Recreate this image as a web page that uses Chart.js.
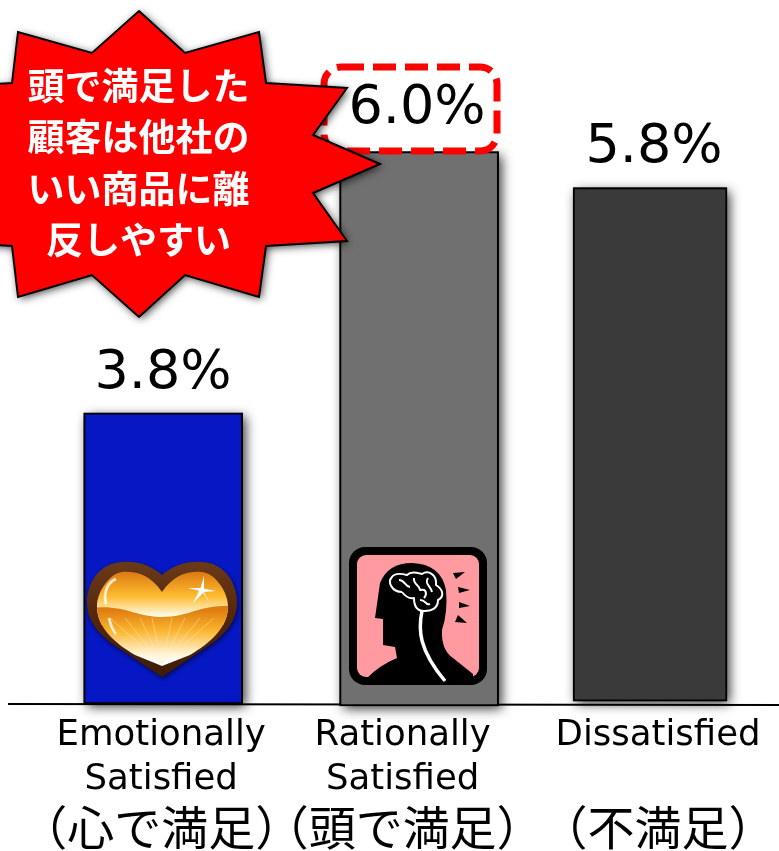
<!DOCTYPE html>
<html>
<head>
<meta charset="utf-8">
<title>Satisfaction chart</title>
<script src="https://cdn.jsdelivr.net/npm/chart.js@4"></script>
<style>
    html, body { margin: 0; padding: 0; background: #fff; }
    canvas { display: block; }
</style>
</head>
<body>
<canvas id="chart" width="779" height="851"></canvas>
<script>
const labelsEn = [['Emotionally', 'Satisfied'], ['Rationally', 'Satisfied'], ['Dissatisfied']];
const labelsJa = ['（心で満足）', '（頭で満足）', '（不満足）'];
const printedValues = [3.8, 6.0, 5.8];
// the bars in the picture are not to scale with the printed numbers, so heights are read separately
const barTops = [3.8, 7.21, 6.74];
const barBases = [0, -0.026, 0.039];
const barColors = ['#0618c4', '#707070', '#3a3a3a'];
const barWidths = [159, 159, 154];
const barNudge = [0, 12.5, 0];
const tickNudge = [-2, -4, 8];
const calloutLines = ['頭で満足した', '顧客は他社の', 'いい商品に離', '反しやすい'];

const JP = '"Noto Sans CJK JP"';
const LATIN = '"DejaVu Sans"';

const poly = (ctx, pts) => {
    ctx.beginPath();
    pts.forEach((p, i) => i ? ctx.lineTo(p[0], p[1]) : ctx.moveTo(p[0], p[1]));
    ctx.closePath();
};

const drawCallout = (ctx) => {
    const pts = [[139, 11], [185, 53], [259, 32], [266, 83], [347, 88], [313, 135], [380, 164], [313, 193], [347, 241],
        [266, 246], [259, 297], [185, 275], [139, 317], [92, 275], [18, 297], [12, 246], [-69, 241], [-35, 193],
        [-102, 164], [-35, 135], [-69, 88], [12, 83], [18, 32], [92, 53]];
    ctx.save();
    ctx.shadowColor = 'rgba(0,0,0,0.75)';
    ctx.shadowBlur = 9;
    ctx.shadowOffsetX = 2;
    ctx.shadowOffsetY = 2;
    poly(ctx, pts);
    ctx.fillStyle = '#ff0000';
    ctx.fill();
    ctx.shadowColor = 'transparent';
    ctx.lineWidth = 2;
    ctx.strokeStyle = '#000';
    ctx.stroke();

    ctx.font = 'bold 37px ' + JP;
    ctx.fillStyle = '#fff';
    ctx.textAlign = 'center';
    ctx.textBaseline = 'middle';
    [86, 137, 189, 240].forEach((y, i) => ctx.fillText(calloutLines[i], 138.5, y));
    ctx.restore();
};

const heartPath = (ctx, cx, notch, top, left, right, mid, tip) => {
    const l = cx - left, r = cx + right;
    ctx.beginPath();
    ctx.moveTo(cx, notch);
    ctx.bezierCurveTo(cx - 12, top + 3, cx - 25, top - 1, cx - 40, top);
    ctx.bezierCurveTo(l + 13, top + 1, l, top + 20, l, mid);
    ctx.bezierCurveTo(l, mid + 22, l + 18, mid + 37, l + 38, mid + 49);
    ctx.lineTo(cx, tip);
    ctx.lineTo(r - 38, mid + 49);
    ctx.bezierCurveTo(r - 18, mid + 37, r, mid + 22, r, mid);
    ctx.bezierCurveTo(r, top + 20, r - 13, top + 1, cx + 40, top);
    ctx.bezierCurveTo(cx + 25, top - 1, cx + 12, top + 3, cx, notch);
    ctx.closePath();
};

const drawHeart = (ctx) => {
    ctx.save();
    ctx.shadowColor = 'rgba(0,0,0,0.6)';
    ctx.shadowBlur = 5;
    ctx.shadowOffsetX = 1;
    ctx.shadowOffsetY = 2;
    heartPath(ctx, 162, 575, 562, 75, 75, 603, 677);
    const rim = ctx.createLinearGradient(0, 562, 0, 677);
    rim.addColorStop(0, '#6a3a18');
    rim.addColorStop(0.5, '#54260a');
    rim.addColorStop(1, '#3e1c06');
    ctx.fillStyle = rim;
    ctx.fill();
    ctx.restore();

    ctx.save();
    heartPath(ctx, 162, 592, 572, 65, 66, 606, 666);
    ctx.save();
    ctx.clip();
    const upper = ctx.createLinearGradient(0, 572, 0, 616);
    upper.addColorStop(0, '#dc7a10');
    upper.addColorStop(0.55, '#fdbb30');
    upper.addColorStop(1, '#fffbe8');
    ctx.fillStyle = upper;
    ctx.fillRect(90, 565, 145, 60);
    ctx.beginPath();
    ctx.moveTo(90, 608);
    ctx.bezierCurveTo(125, 604, 135, 617, 162, 617);
    ctx.bezierCurveTo(190, 617, 200, 604, 235, 606);
    ctx.lineTo(235, 680);
    ctx.lineTo(90, 680);
    ctx.closePath();
    const lower = ctx.createLinearGradient(0, 610, 0, 662);
    lower.addColorStop(0, '#df7d10');
    lower.addColorStop(0.4, '#fbb52e');
    lower.addColorStop(0.85, '#fff4d8');
    lower.addColorStop(1, '#ffffff');
    ctx.fillStyle = lower;
    ctx.fill();
    // light rays fanning up from the tip
    ctx.strokeStyle = 'rgba(255,240,200,0.45)';
    ctx.lineWidth = 1;
    ctx.beginPath();
    [110, 125, 140, 152, 172, 185, 200, 214].forEach(x => {
        ctx.moveTo(162, 664);
        ctx.lineTo(x, 618);
    });
    ctx.stroke();
    // glossy highlight on the left lobe
    ctx.strokeStyle = 'rgba(255,255,255,0.6)';
    ctx.lineWidth = 3;
    ctx.beginPath();
    ctx.moveTo(106, 604);
    ctx.bezierCurveTo(103, 592, 108, 582, 116, 579);
    ctx.moveTo(116, 646 - 12);
    ctx.bezierCurveTo(111, 628, 110, 622, 109, 618);
    ctx.stroke();
    ctx.restore();
    ctx.strokeStyle = '#fff';
    ctx.lineWidth = 1;
    ctx.stroke();

    // sparkle
    ctx.fillStyle = '#fff';
    [[204, 576], [216, 591], [188, 588], [193, 603], [210, 604]].forEach(s => {
        poly(ctx, [[s[0], s[1]], [200.5, 588], [204, 592]]);
        ctx.fill();
    });
    ctx.restore();
};

const drawHead = (ctx) => {
    ctx.save();
    ctx.fillStyle = '#000';
    ctx.beginPath();
    ctx.roundRect(349, 547, 138, 138, 16);
    ctx.fill();
    ctx.fillStyle = '#ff9aa0';
    ctx.beginPath();
    ctx.roundRect(357, 555, 122, 122, 9);
    ctx.fill();

    // silhouette
    ctx.fillStyle = '#000';
    ctx.beginPath();
    ctx.moveTo(367, 678);
    ctx.quadraticCurveTo(380, 665, 397, 658);
    ctx.lineTo(395, 647);
    ctx.lineTo(383, 645);
    ctx.lineTo(383, 619);
    ctx.lineTo(375, 618);
    ctx.lineTo(380, 583);
    ctx.quadraticCurveTo(388, 563, 412, 563);
    ctx.quadraticCurveTo(441, 564, 446, 590);
    ctx.quadraticCurveTo(448, 612, 442, 630);
    ctx.quadraticCurveTo(441, 650, 453, 658);
    ctx.lineTo(473, 674);
    ctx.lineTo(473, 678);
    ctx.closePath();
    ctx.fill();
    poly(ctx, [[453, 573], [465, 572], [456, 579]]);
    ctx.fill();
    poly(ctx, [[458, 587], [470, 590], [459, 593]]);
    ctx.fill();
    poly(ctx, [[459, 602], [470, 606], [459, 608]]);
    ctx.fill();
    poly(ctx, [[455, 622], [467, 623], [458, 615]]);
    ctx.fill();

    // brain outline and spine
    ctx.strokeStyle = '#fff';
    ctx.lineWidth = 2;
    ctx.lineJoin = 'round';
    ctx.beginPath();
    ctx.moveTo(402, 592);
    ctx.bezierCurveTo(392, 592, 387, 582, 392, 577);
    ctx.bezierCurveTo(395, 572, 403, 574, 407, 575);
    ctx.bezierCurveTo(412, 570, 420, 574, 422, 574);
    ctx.bezierCurveTo(428, 570, 437, 574, 436, 585);
    ctx.bezierCurveTo(444, 590, 444, 597, 438, 600);
    ctx.bezierCurveTo(438, 608, 432, 611, 424, 611);
    ctx.bezierCurveTo(416, 611, 414, 604, 414, 598);
    ctx.bezierCurveTo(408, 599, 405, 596, 402, 592);
    ctx.moveTo(399, 580);
    ctx.bezierCurveTo(405, 580, 405, 587, 410, 587);
    ctx.moveTo(414, 578);
    ctx.bezierCurveTo(413, 585, 420, 585, 420, 590);
    ctx.bezierCurveTo(427, 588, 427, 595, 424, 598);
    ctx.moveTo(428, 578);
    ctx.bezierCurveTo(424, 584, 431, 586, 432, 592);
    ctx.moveTo(420, 600);
    ctx.bezierCurveTo(426, 600, 426, 606, 430, 604);
    ctx.stroke();
    ctx.lineWidth = 3.5;
    ctx.beginPath();
    ctx.moveTo(422, 611);
    ctx.bezierCurveTo(418, 630, 419, 650, 445, 681);
    ctx.stroke();
    ctx.restore();
};

const barDecor = {
    id: 'barDecor',
    afterDatasetsUpdate(chart) {
        chart.data.datasets.forEach((ds, d) => {
            chart.getDatasetMeta(d).data[d].x += barNudge[d];
        });
    },
    beforeDatasetsDraw(chart) {
        const { ctx, scales: { y } } = chart;
        // soft shadow under each bar, then the axis rule on top of it
        ctx.save();
        ctx.shadowColor = 'rgba(0,0,0,0.8)';
        ctx.shadowBlur = 11;
        ctx.shadowOffsetX = 3;
        ctx.shadowOffsetY = 3;
        ctx.fillStyle = '#000';
        chart.data.datasets.forEach((ds, d) => {
            const bar = chart.getDatasetMeta(d).data[d];
            ctx.fillRect(bar.x - bar.width / 2, bar.y, bar.width, bar.base - bar.y);
        });
        ctx.restore();

        const y0 = y.getPixelForValue(0);
        ctx.save();
        ctx.strokeStyle = '#000';
        ctx.lineWidth = 2;
        ctx.beginPath();
        ctx.moveTo(8, y0);
        ctx.lineTo(779, y0 + 1);
        ctx.stroke();
        ctx.restore();
    },
    afterDatasetsDraw(chart) {
        const { ctx } = chart;
        drawHeart(ctx);
        drawHead(ctx);

        // dashed frame round the 6.0%
        ctx.save();
        ctx.beginPath();
        ctx.roundRect(324, 67, 173, 84, 17);
        ctx.fillStyle = '#fff';
        ctx.fill();
        ctx.strokeStyle = '#ff0000';
        ctx.lineWidth = 7;
        ctx.setLineDash([23, 9]);
        ctx.stroke();
        ctx.restore();

        ctx.save();
        ctx.font = '54px ' + LATIN;
        ctx.fillStyle = '#000';
        ctx.textAlign = 'center';
        ctx.textBaseline = 'alphabetic';
        const labelX = [163, 417, 654];
        const labelY = [388, 123, 162];
        printedValues.forEach((v, i) => ctx.fillText(v.toFixed(1) + '%', labelX[i], labelY[i]));
        ctx.restore();

        drawCallout(ctx);
    }
};

// tick labels sit a little off the slot centres in the picture
const shiftTicks = (scale) => {
    if (scale.$shifted) return;
    scale.$shifted = true;
    const orig = scale.getPixelForTick.bind(scale);
    scale.getPixelForTick = (i) => orig(i) + tickNudge[i];
};

new Chart(document.getElementById('chart'), {
    type: 'bar',
    data: {
        labels: labelsEn,
        datasets: printedValues.map((v, i) => ({
            data: printedValues.map((_, j) => (j === i ? [barBases[i], barTops[i]] : null)),
            backgroundColor: barColors[i],
            borderColor: '#000',
            borderWidth: 2,
            borderSkipped: false,
            barThickness: barWidths[i],
            grouped: false,
            clip: false
        }))
    },
    options: {
        responsive: false,
        animation: false,
        layout: { padding: { left: 41.5, right: 7.25, top: 0, bottom: 0 } },
        plugins: { legend: { display: false }, tooltip: { enabled: false } },
        scales: {
            y: { display: false, min: -0.13, max: 9.19 },
            x: {
                position: 'bottom',
                grid: { display: false, drawTicks: false },
                border: { display: false },
                ticks: {
                    autoSkip: false, maxRotation: 0, padding: 0, color: '#000',
                    font: { family: LATIN, size: 35.5, lineHeight: 1.24 }
                },
                afterFit: (s) => { s.height = 90; shiftTicks(s); }
            },
            xJa: {
                type: 'category',
                position: 'bottom',
                labels: labelsJa,
                grid: { display: false, drawTicks: false },
                border: { display: false },
                ticks: {
                    autoSkip: false, maxRotation: 0, padding: 0, color: '#000',
                    font: { family: JP, size: 47, lineHeight: 1 }
                },
                afterFit: (s) => { s.height = 47; shiftTicks(s); }
            }
        }
    },
    plugins: [barDecor]
});
</script>
</body>
</html>
